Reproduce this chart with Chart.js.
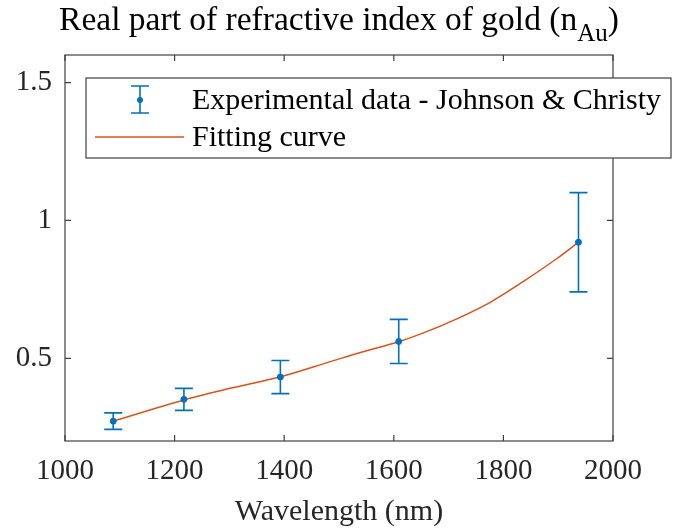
<!DOCTYPE html>
<html>
<head>
<meta charset="utf-8">
<script src="https://cdn.jsdelivr.net/npm/chart.js@4"></script>
<style>
    html, body { margin: 0; padding: 0; background: #fff; }
    .chart { width: 680px; height: 530px; }
</style>
</head>
<body>
<div class="chart">
    <canvas id="myChart" width="680" height="530"></canvas>
</div>
<script>
    // data
    const expWavelength = [1088, 1217, 1393, 1609, 1937];
    const expN = [0.272, 0.351, 0.432, 0.561, 0.921];
    const expErr = [0.03, 0.04, 0.06, 0.08, 0.18];

    const fitWavelength = [1088, 1217, 1301, 1393, 1484, 1544, 1609, 1654, 1715, 1776, 1836, 1897, 1937];
    const fitN = [0.272, 0.349, 0.391, 0.433, 0.488, 0.524, 0.560, 0.592, 0.643, 0.703, 0.778, 0.861, 0.921];

    const xTicks = [1000, 1200, 1400, 1600, 1800, 2000];
    const yTicks = [0.5, 1, 1.5];
    const legendLabels = ['Experimental data - Johnson & Christy', 'Fitting curve'];
    const titleMain = 'Real part of refractive index of gold (n';
    const titleSub = 'Au';

    const FONT = "'Liberation Serif', 'Times New Roman', serif";
    const BLUE = '#0072BD';
    const ORANGE = '#D95319';
    const AXIS = '#404040';
    const TEXT = '#262626';

    // error bars under the markers
    const errorBars = {
        id: 'errorBars',
        beforeDatasetsDraw(chart) {
            const { ctx, scales: { x, y } } = chart;
            ctx.save();
            ctx.strokeStyle = BLUE;
            ctx.lineWidth = 1.6;
            expWavelength.forEach((w, i) => {
                const px = x.getPixelForValue(w);
                const top = y.getPixelForValue(expN[i] + expErr[i]);
                const bot = y.getPixelForValue(expN[i] - expErr[i]);
                ctx.beginPath();
                ctx.moveTo(px, top); ctx.lineTo(px, bot);
                ctx.moveTo(px - 9, top); ctx.lineTo(px + 9, top);
                ctx.moveTo(px - 9, bot); ctx.lineTo(px + 9, bot);
                ctx.stroke();
            });
            ctx.restore();
        }
    };

    // box, inward ticks, title and legend (matlab look)
    const frame = {
        id: 'frame',
        afterDraw(chart) {
            const { ctx, chartArea: a, scales: { x, y } } = chart;
            ctx.save();
            ctx.strokeStyle = AXIS;
            ctx.lineWidth = 1.2;
            ctx.strokeRect(a.left, a.top, a.right - a.left, a.bottom - a.top);
            ctx.beginPath();
            x.ticks.forEach(t => {
                const px = x.getPixelForValue(t.value);
                ctx.moveTo(px, a.bottom); ctx.lineTo(px, a.bottom - 6);
                ctx.moveTo(px, a.top); ctx.lineTo(px, a.top + 6);
            });
            y.ticks.forEach(t => {
                const py = y.getPixelForValue(t.value);
                ctx.moveTo(a.left, py); ctx.lineTo(a.left + 6, py);
                ctx.moveTo(a.right, py); ctx.lineTo(a.right - 6, py);
            });
            ctx.stroke();

            // title with subscript
            ctx.fillStyle = '#000';
            ctx.textBaseline = 'alphabetic';
            ctx.textAlign = 'left';
            ctx.font = '33.5px ' + FONT;
            const wMain = ctx.measureText(titleMain).width;
            const wClose = ctx.measureText(')').width;
            ctx.font = '25px ' + FONT;
            const wSub = ctx.measureText(titleSub).width;
            let tx = (a.left + a.right) / 2 - (wMain + wSub + wClose) / 2;
            ctx.font = '33.5px ' + FONT;
            ctx.fillText(titleMain, tx, 30);
            ctx.font = '25px ' + FONT;
            ctx.fillText(titleSub, tx + wMain, 41);
            ctx.font = '33.5px ' + FONT;
            ctx.fillText(')', tx + wMain + wSub, 30);

            // legend
            const lx = 86, ly = 78, lw = 585, lh = 80;
            ctx.fillStyle = '#fff';
            ctx.fillRect(lx, ly, lw, lh);
            ctx.strokeStyle = AXIS;
            ctx.lineWidth = 1.2;
            ctx.strokeRect(lx, ly, lw, lh);

            ctx.strokeStyle = BLUE;
            ctx.lineWidth = 1.6;
            ctx.beginPath();
            ctx.moveTo(140, 86); ctx.lineTo(140, 113);
            ctx.moveTo(131, 86); ctx.lineTo(149, 86);
            ctx.moveTo(131, 113); ctx.lineTo(149, 113);
            ctx.stroke();
            ctx.fillStyle = BLUE;
            ctx.beginPath();
            ctx.arc(140, 100, 3, 0, Math.PI * 2);
            ctx.fill();

            ctx.strokeStyle = ORANGE;
            ctx.lineWidth = 1.5;
            ctx.beginPath();
            ctx.moveTo(95, 137); ctx.lineTo(184, 137);
            ctx.stroke();

            ctx.fillStyle = '#000';
            ctx.font = '30px ' + FONT;
            ctx.textBaseline = 'middle';
            ctx.fillText(legendLabels[0], 192, 101);
            ctx.fillText(legendLabels[1], 192, 138);
            ctx.restore();
        }
    };

    const ctx = document.getElementById('myChart').getContext('2d');
    const myChart = new Chart(ctx, {
        type: 'line',
        data: {
            datasets: [
                {
                    label: legendLabels[0],
                    data: expWavelength.map((w, i) => ({ x: w, y: expN[i] })),
                    showLine: false,
                    pointRadius: 3,
                    pointBackgroundColor: BLUE,
                    pointBorderColor: BLUE,
                    borderColor: BLUE
                },
                {
                    label: legendLabels[1],
                    data: fitWavelength.map((w, i) => ({ x: w, y: fitN[i] })),
                    borderColor: ORANGE,
                    borderWidth: 1.5,
                    pointRadius: 0,
                    fill: false,
                    cubicInterpolationMode: 'monotone'
                }
            ]
        },
        options: {
            responsive: false,
            animation: false,
            devicePixelRatio: 1,
            layout: { padding: { left: 0, right: 67, top: 55, bottom: 0 } },
            plugins: {
                legend: { display: false },
                tooltip: { enabled: false },
                title: { display: false }
            },
            scales: {
                x: {
                    type: 'linear',
                    min: 1000,
                    max: 2000,
                    grid: { display: false, drawTicks: false },
                    border: { display: false },
                    afterBuildTicks: s => { s.ticks = xTicks.map(v => ({ value: v })); },
                    ticks: {
                        maxRotation: 0,
                        autoSkip: false,
                        padding: 13,
                        color: TEXT,
                        font: { family: FONT, size: 29 },
                        callback: v => String(v)
                    },
                    title: {
                        display: true,
                        text: 'Wavelength (nm)',
                        color: TEXT,
                        font: { family: FONT, size: 30 },
                        padding: { top: 0, bottom: 0 }
                    },
                    afterFit: s => { s.height = 89; }
                },
                y: {
                    type: 'linear',
                    min: 0.2,
                    max: 1.6,
                    grid: { display: false, drawTicks: false },
                    border: { display: false },
                    afterBuildTicks: s => { s.ticks = yTicks.map(v => ({ value: v })); },
                    ticks: {
                        padding: 13,
                        color: TEXT,
                        font: { family: FONT, size: 29 },
                        callback: v => String(v)
                    },
                    afterFit: s => { s.width = 65; }
                }
            }
        },
        plugins: [errorBars, frame]
    });
</script>
</body>
</html>
